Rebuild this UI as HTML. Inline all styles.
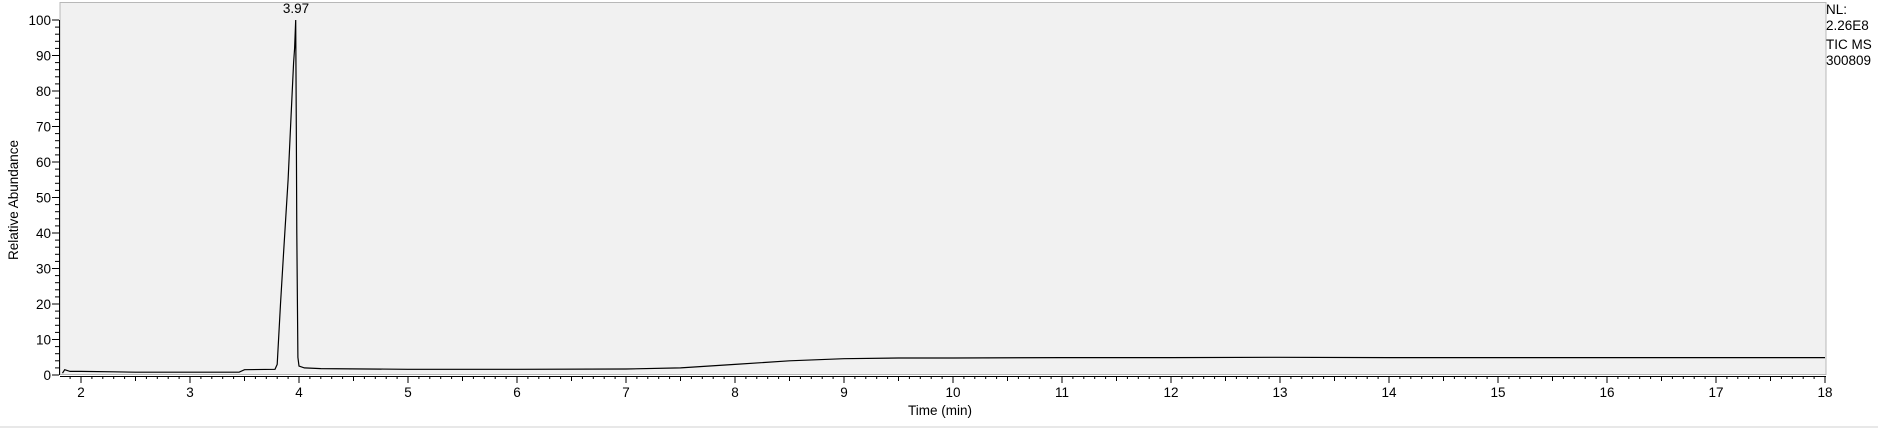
<!DOCTYPE html>
<html><head><meta charset="utf-8"><style>
body{margin:0;background:#fff;}
svg{display:block;font-family:"Liberation Sans",Arial,sans-serif;}
</style></head><body>
<svg id="chart" width="1878" height="428">
<rect x="0" y="426" width="1878" height="2" fill="#e8e8e8"/>
<rect x="60" y="2.5" width="1766" height="372" fill="#f1f1f1" stroke="#b8b8b8" stroke-width="1"/>
<g id="axes"></g>
<g id="series"></g>
<text x="296" y="13" font-size="13.5" text-anchor="middle" fill="#000">3.97</text>
<text x="1826" y="14" font-size="13.5">NL:</text>
<text x="1826" y="30" font-size="13.5">2.26E8</text>
<text x="1826" y="49" font-size="13.5">TIC  MS</text>
<text x="1826" y="65" font-size="13.5">300809</text>
<text x="940" y="415" font-size="13.5" text-anchor="middle">Time (min)</text>
<text transform="translate(18,200) rotate(-90)" font-size="13.5" text-anchor="middle">Relative Abundance</text>
</svg>
<script>
const xTicks=[2,3,4,5,6,7,8,9,10,11,12,13,14,15,16,17,18];
const yTicks=[0,10,20,30,40,50,60,70,80,90,100];
const times=[1.83,1.85,1.9,2.0,2.3,2.5,3.0,3.45,3.5,3.78,3.8,3.83,3.86,3.9,3.93,3.95,3.96,3.97,3.975,3.98,3.99,4.0,4.05,4.2,5,6,7,7.5,8,8.5,9,9.5,10,11,12,13,14,15,16,17,18];
const abundance=[0.5,1.5,1.0,1.0,0.9,0.8,0.8,0.8,1.5,1.6,3,20,35,55,75,88,92,100,70,40,5,2.5,2.0,1.8,1.6,1.6,1.7,2.0,3.0,4.0,4.6,4.8,4.8,4.9,4.9,5.0,4.9,4.9,4.9,4.9,4.9];
const X0=60,PX=109,Y0=375,PY=3.55;
function sx(t){return 81+(t-2)*PX;}
function sy(v){return Y0-v*PY;}
const NS="http://www.w3.org/2000/svg";
const ax=document.getElementById('axes');
function mk(tag,attrs,parent){const e=document.createElementNS(NS,tag);for(const k in attrs)e.setAttribute(k,attrs[k]);parent.appendChild(e);return e;}
let l=mk('line',{x1:X0,y1:376.5,x2:1826,y2:376.5,stroke:'#000'},ax);


l=mk('line',{x1:59.5,y1:Y0,x2:59.5,y2:sy(100),stroke:'#000'},ax);


for(let t=1.9;t<=18.001;t+=0.1){const r=Math.round(t*10)/10;const maj=Math.abs(r-Math.round(r))<0.01;const half=Math.abs(r*2-Math.round(r*2))<0.01;
 const e=mk('line',{x1:sx(r),x2:sx(r),y1:376,y2:376+(maj?7:half?5:3),stroke:'#000'},ax);
 
 }
xTicks.forEach(t=>{const e=mk('text',{x:sx(t),y:397,'font-size':13.5,'text-anchor':'middle'},ax);e.textContent=t;
 
 });
for(let v=0;v<=100;v+=2){const maj=v%10===0;
 const e=mk('line',{x1:59,x2:59-(maj?7:4),y1:sy(v),y2:sy(v),stroke:'#000'},ax);
 
 }
yTicks.forEach(v=>{const e=mk('text',{x:51,y:sy(v)+5,'font-size':13.5,'text-anchor':'end'},ax);e.textContent=v;
 
 });
const pts=times.map((t,i)=>sx(t).toFixed(1)+','+sy(abundance[i]).toFixed(1)).join(' ');
const pl=mk('polyline',{points:pts,fill:'none',stroke:'#000','stroke-width':1.2},document.getElementById('series'));


</script>
</body></html>
